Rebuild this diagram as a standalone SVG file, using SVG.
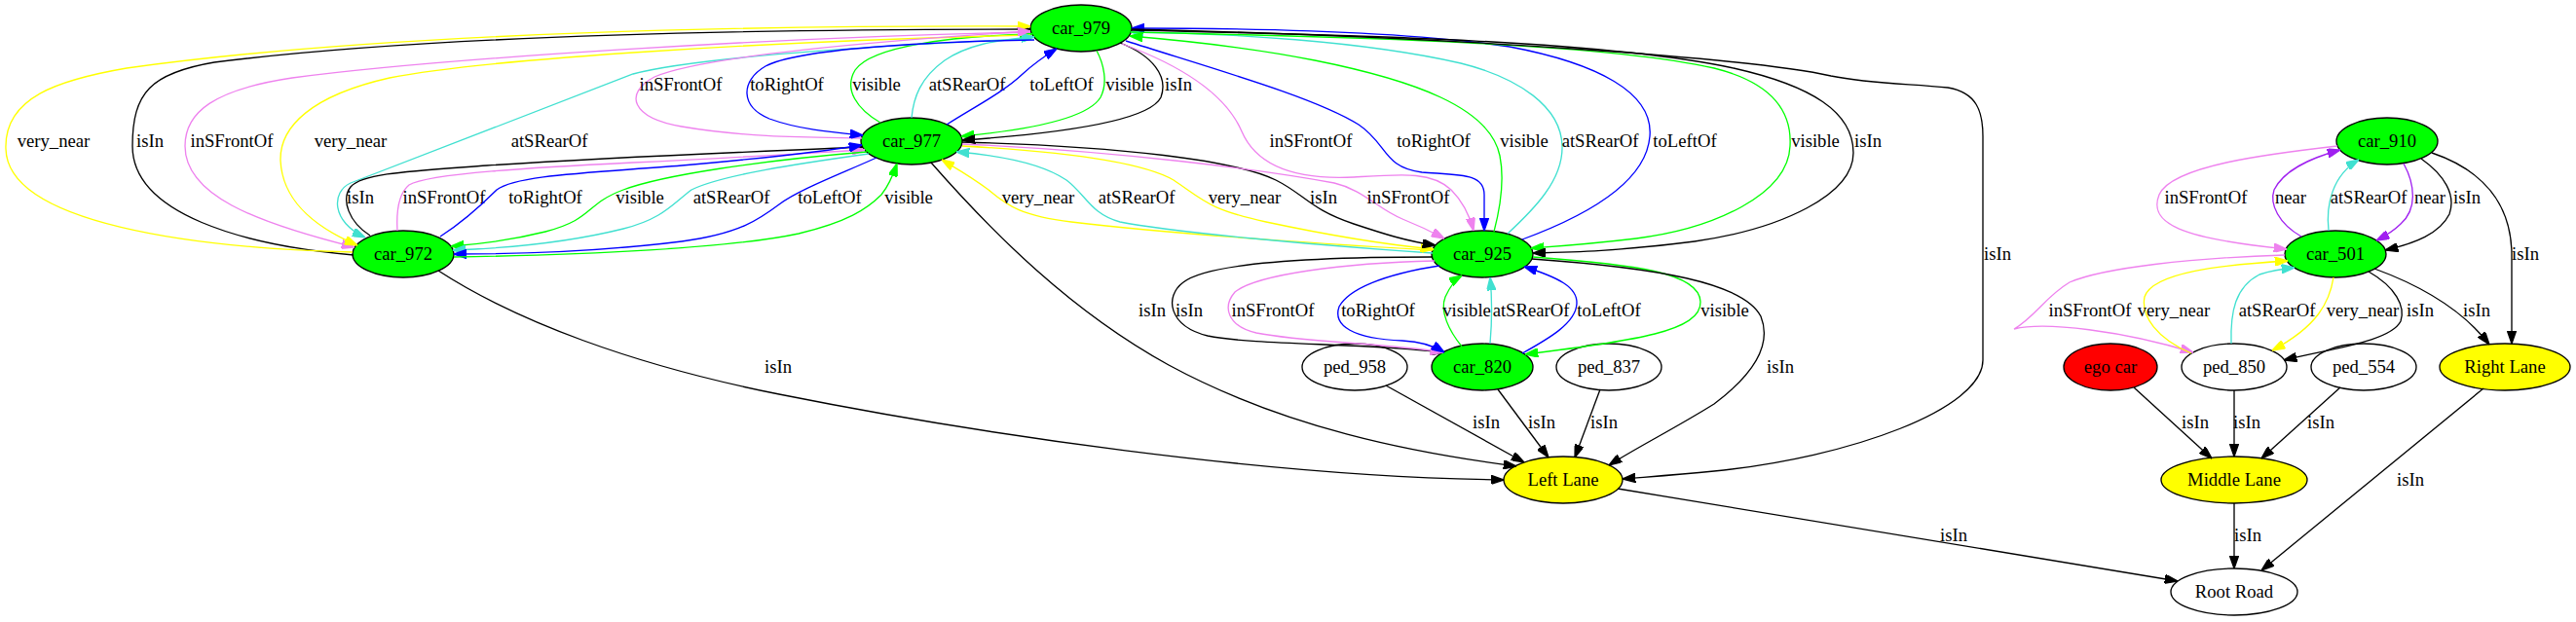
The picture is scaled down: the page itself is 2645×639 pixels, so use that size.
<svg xmlns="http://www.w3.org/2000/svg" width="2645" height="639" viewBox="0 0 2645 639">
<style>
text{font-family:"Liberation Serif","Times New Roman",serif;font-size:18.67px;fill:#000;text-anchor:middle}
.n ellipse{stroke:#000;stroke-width:1.33}
.gr{fill:#00ff00}.ye{fill:#ffff00}.rd{fill:#ff0000}.wh{fill:#fff}
.e{fill:none;stroke-width:1.33}
.k{stroke:#000;marker-end:url(#mk)}
.y{stroke:#ffff00;marker-end:url(#my)}
.v{stroke:#ee82ee;marker-end:url(#mv)}
.t{stroke:#40e0d0;marker-end:url(#mt)}
.b{stroke:#0000ff;marker-end:url(#mb)}
.g{stroke:#00ff00;marker-end:url(#mg)}
.p{stroke:#a020f0;marker-end:url(#mp)}
</style>
<defs>
<marker id="mk" viewBox="0 0 10 7" refX="10" refY="3.5" markerWidth="13.3" markerHeight="9.3" markerUnits="userSpaceOnUse" orient="auto"><path d="M0,0L10,3.5L0,7z" fill="#000" stroke="#000"/></marker>
<marker id="my" viewBox="0 0 10 7" refX="10" refY="3.5" markerWidth="13.3" markerHeight="9.3" markerUnits="userSpaceOnUse" orient="auto"><path d="M0,0L10,3.5L0,7z" fill="#ffff00" stroke="#ffff00"/></marker>
<marker id="mv" viewBox="0 0 10 7" refX="10" refY="3.5" markerWidth="13.3" markerHeight="9.3" markerUnits="userSpaceOnUse" orient="auto"><path d="M0,0L10,3.5L0,7z" fill="#ee82ee" stroke="#ee82ee"/></marker>
<marker id="mt" viewBox="0 0 10 7" refX="10" refY="3.5" markerWidth="13.3" markerHeight="9.3" markerUnits="userSpaceOnUse" orient="auto"><path d="M0,0L10,3.5L0,7z" fill="#40e0d0" stroke="#40e0d0"/></marker>
<marker id="mb" viewBox="0 0 10 7" refX="10" refY="3.5" markerWidth="13.3" markerHeight="9.3" markerUnits="userSpaceOnUse" orient="auto"><path d="M0,0L10,3.5L0,7z" fill="#0000ff" stroke="#0000ff"/></marker>
<marker id="mg" viewBox="0 0 10 7" refX="10" refY="3.5" markerWidth="13.3" markerHeight="9.3" markerUnits="userSpaceOnUse" orient="auto"><path d="M0,0L10,3.5L0,7z" fill="#00ff00" stroke="#00ff00"/></marker>
<marker id="mp" viewBox="0 0 10 7" refX="10" refY="3.5" markerWidth="13.3" markerHeight="9.3" markerUnits="userSpaceOnUse" orient="auto"><path d="M0,0L10,3.5L0,7z" fill="#a020f0" stroke="#a020f0"/></marker>
</defs>
<rect width="2645" height="639" fill="#fff"/>
<g id="nodes">
<g id="car_979" class="n"><ellipse class="gr" cx="1110" cy="29" rx="52" ry="24"/><text x="1110" y="35">car_979</text></g>
<g id="car_977" class="n"><ellipse class="gr" cx="936" cy="145" rx="52" ry="24"/><text x="936" y="151">car_977</text></g>
<g id="car_972" class="n"><ellipse class="gr" cx="414" cy="261" rx="52" ry="24"/><text x="414" y="267">car_972</text></g>
<g id="car_925" class="n"><ellipse class="gr" cx="1522" cy="261" rx="52" ry="24"/><text x="1522" y="267">car_925</text></g>
<g id="car_820" class="n"><ellipse class="gr" cx="1522" cy="377" rx="52" ry="24"/><text x="1522" y="383">car_820</text></g>
<g id="ped_958" class="n"><ellipse class="wh" cx="1391" cy="377" rx="54" ry="24"/><text x="1391" y="383">ped_958</text></g>
<g id="ped_837" class="n"><ellipse class="wh" cx="1652" cy="377" rx="54" ry="24"/><text x="1652" y="383">ped_837</text></g>
<g id="left_lane" class="n"><ellipse class="ye" cx="1605" cy="493" rx="61" ry="24"/><text x="1605" y="499">Left Lane</text></g>
<g id="car_910" class="n"><ellipse class="gr" cx="2451" cy="145" rx="52" ry="24"/><text x="2451" y="151">car_910</text></g>
<g id="car_501" class="n"><ellipse class="gr" cx="2398" cy="261" rx="52" ry="24"/><text x="2398" y="267">car_501</text></g>
<g id="ego_car" class="n"><ellipse class="rd" cx="2167" cy="377" rx="48" ry="24"/><text x="2167" y="383">ego car</text></g>
<g id="ped_850" class="n"><ellipse class="wh" cx="2294" cy="377" rx="54" ry="24"/><text x="2294" y="383">ped_850</text></g>
<g id="ped_554" class="n"><ellipse class="wh" cx="2427" cy="377" rx="54" ry="24"/><text x="2427" y="383">ped_554</text></g>
<g id="right_lane" class="n"><ellipse class="ye" cx="2572" cy="377" rx="67" ry="24"/><text x="2572" y="383">Right Lane</text></g>
<g id="middle_lane" class="n"><ellipse class="ye" cx="2294" cy="493" rx="75" ry="24"/><text x="2294" y="499">Middle Lane</text></g>
<g id="root_road" class="n"><ellipse class="wh" cx="2294" cy="608" rx="65" ry="24"/><text x="2294" y="614">Root Road</text></g>
</g>
<g id="connectors">
<path class="e k" d="M363,262 C250,252 136,220 136,150 C136,95 155,75 220,64 C450,35 800,30 1058,30"/><text x="154" y="151">isIn</text>
<path class="e g" d="M904,126 C880,112 866,92 878,72 C895,47 980,37 1060,35"/><text x="900" y="93">visible</text>
<path class="e y" d="M362,259 C200,255 8,230 6,153 C4,100 60,82 130,70 C400,32 800,26 1058,27"/><text x="55" y="151">very_near</text>
<path class="e v" d="M1058,33 C800,38 450,60 300,80 C220,92 190,115 190,150 C190,200 260,228 364,254"/><text x="238" y="151">inSFrontOf</text>
<path class="e y" d="M1058,36 C800,42 500,60 400,80 C320,98 287,130 288,165 C290,205 320,232 367,252"/><text x="360" y="151">very_near</text>
<path class="e t" d="M1059,40 C950,44 720,57 650,76 L360,188 C340,197 340,228 375,244"/><text x="564" y="151">atSRearOf</text>
<path class="e t" d="M936,121 C938,100 945,80 970,62 C992,47 1020,41 1062,38"/><text x="993" y="93">atSRearOf</text>
<path class="e v" d="M885,142 C840,141 770,142 700,130 C648,121 640,96 672,79 C720,58 900,42 1058,32"/><text x="699" y="93">inSFrontOf</text>
<path class="e b" d="M1062,41 C950,43 820,50 786,68 C760,83 760,110 790,122 C820,133 855,136 886,139"/><text x="808" y="93">toRightOf</text>
<path class="e b" d="M972,128 C1000,110 1030,95 1050,76 C1062,65 1072,58 1085,50"/><text x="1090" y="93">toLeftOf</text>
<path class="e g" d="M1126,52 C1133,65 1138,85 1130,100 C1115,125 1040,135 987,140"/><text x="1160" y="93">visible</text>
<path class="e k" d="M1150,44 C1183,57 1200,78 1192,100 C1178,128 1060,139 988,144"/><text x="1210" y="93">isIn</text>
<path class="e v" d="M1152,45 C1220,70 1260,100 1275,135 C1290,170 1330,185 1390,182 C1440,179 1470,176 1490,195 C1505,210 1510,225 1513,237"/><text x="1346" y="151">inSFrontOf</text>
<path class="e b" d="M1156,42 C1250,72 1350,100 1395,128 C1425,148 1420,172 1460,177 C1500,180 1524,178 1524,200 L1524,237"/><text x="1472" y="151">toRightOf</text>
<path class="e t" d="M1548,240 C1575,215 1605,185 1604,150 C1603,110 1560,80 1500,65 C1400,42 1260,34 1161,33"/><text x="1643" y="151">atSRearOf</text>
<path class="e g" d="M1534,238 C1540,215 1545,185 1540,160 C1530,110 1450,82 1350,62 C1290,50 1220,42 1160,37"/><text x="1565" y="151">visible</text>
<path class="e b" d="M1563,246 C1620,225 1690,190 1694,140 C1698,95 1640,65 1550,48 C1450,33 1300,29 1162,29"/><text x="1730" y="151">toLeftOf</text>
<path class="e g" d="M1161,33 C1400,38 1650,45 1760,70 C1820,85 1840,115 1838,150 C1836,200 1760,235 1680,245 C1630,251 1600,253 1572,255"/><text x="1864" y="151">visible</text>
<path class="e k" d="M1162,31 C1400,36 1650,42 1780,70 C1860,88 1903,115 1903,157 C1903,200 1830,235 1740,248 C1660,258 1620,259 1574,260"/><text x="1918" y="151">isIn</text>
<path class="e k" d="M1162,30 C1500,38 1800,60 1880,78 C1920,86 1960,86 2000,90 C2030,95 2036,115 2036,140 L2036,370 C2036,420 1900,470 1760,484 C1720,488 1690,490 1666,492"/><text x="2051" y="267">isIn</text>
<path class="e k" d="M380,242 C358,228 350,205 360,192 C372,178 420,176 500,170 C650,160 800,155 886,151"/><text x="370" y="209">isIn</text>
<path class="e v" d="M408,237 C407,220 408,200 420,190 C440,178 550,172 650,167 C760,162 830,157 888,154"/><text x="456" y="209">inSFrontOf</text>
<path class="e b" d="M452,243 C480,225 500,205 510,195 C530,180 600,178 700,170 C790,162 850,155 885,149"/><text x="560" y="209">toRightOf</text>
<path class="e g" d="M890,156 C780,165 680,180 640,195 C600,210 610,225 560,238 C520,248 490,251 463,253"/><text x="657" y="209">visible</text>
<path class="e t" d="M892,158 C820,168 740,180 710,195 C690,210 680,225 640,235 C580,250 520,255 465,257"/><text x="751" y="209">atSRearOf</text>
<path class="e b" d="M900,162 C860,180 820,195 800,210 C780,225 760,240 700,248 C620,258 530,261 466,261"/><text x="852" y="209">toLeftOf</text>
<path class="e g" d="M466,264 C600,262 750,255 820,240 C870,228 890,215 905,200 C913,190 917,180 921,168"/><text x="933" y="209">visible</text>
<path class="e y" d="M1471,257 C1350,250 1200,240 1100,228 C1050,222 1035,212 1015,195 C995,180 980,172 967,164"/><text x="1066" y="209">very_near</text>
<path class="e t" d="M1471,260 C1350,252 1200,238 1150,228 C1120,220 1115,200 1095,185 C1070,168 1030,160 982,156"/><text x="1167" y="209">atSRearOf</text>
<path class="e y" d="M988,150 C1080,155 1170,165 1205,185 C1235,205 1240,215 1300,228 C1380,245 1430,252 1472,256"/><text x="1278" y="209">very_near</text>
<path class="e k" d="M988,146 C1150,150 1270,165 1310,185 C1340,200 1345,215 1390,230 C1420,240 1445,248 1474,252"/><text x="1359" y="209">isIn</text>
<path class="e v" d="M988,148 C1150,155 1300,175 1370,188 C1400,195 1415,215 1440,225 C1460,233 1470,238 1483,245"/><text x="1446" y="209">inSFrontOf</text>
<path class="e k" d="M1471,264 C1350,264 1240,270 1215,290 C1195,305 1200,335 1240,345 C1290,355 1400,352 1482,362"/><text x="1221" y="325">isIn</text>
<path class="e v" d="M1473,268 C1380,270 1290,282 1268,300 C1255,315 1260,335 1290,342 C1340,352 1420,352 1482,362"/><text x="1307" y="325">inSFrontOf</text>
<path class="e b" d="M1478,273 C1420,282 1385,297 1375,315 C1368,335 1390,348 1440,350 C1460,351 1472,355 1483,362"/><text x="1415" y="325">toRightOf</text>
<path class="e g" d="M1501,356 C1488,340 1478,320 1484,305 C1490,292 1496,286 1501,283"/><text x="1506" y="325">visible</text>
<path class="e t" d="M1530,353 C1532,330 1532,305 1530,285"/><text x="1572" y="325">atSRearOf</text>
<path class="e b" d="M1563,363 C1590,348 1618,332 1619,312 C1620,295 1600,285 1565,274"/><text x="1652" y="325">toLeftOf</text>
<path class="e g" d="M1574,264 C1680,272 1745,280 1746,310 C1747,340 1680,350 1566,364"/><text x="1771" y="325">visible</text>
<path class="e k" d="M1573,266 C1700,275 1790,290 1808,325 C1820,355 1800,385 1760,415 C1720,440 1680,460 1652,478"/><text x="1828" y="383">isIn</text>
<path class="e k" d="M450,278 C530,330 650,375 800,405 C1000,445 1300,490 1544,493"/><text x="799" y="383">isIn</text>
<path class="e k" d="M956,167 C1020,240 1100,320 1200,375 C1320,440 1450,465 1557,479"/><text x="1183" y="325">isIn</text>
<path class="e k" d="M1423,396 L1565,475"/><text x="1526" y="440">isIn</text>
<path class="e k" d="M1538,400 L1590,470"/><text x="1583" y="440">isIn</text>
<path class="e k" d="M1643,400 L1617,470"/><text x="1647" y="440">isIn</text>
<path class="e k" d="M1661,502 L2236,597"/><text x="2006" y="556">isIn</text>
<path class="e v" d="M2400,150 C2330,158 2230,170 2217,200 C2205,230 2240,245 2348,256"/><text x="2265" y="209">inSFrontOf</text>
<path class="e p" d="M2363,243 C2340,230 2330,210 2335,195 C2345,175 2370,163 2403,154"/><text x="2352" y="209">near</text>
<path class="e t" d="M2391,237 C2388,210 2395,180 2422,164"/><text x="2432" y="209">atSRearOf</text>
<path class="e p" d="M2468,168 C2480,190 2482,215 2465,230 C2458,237 2450,242 2440,247"/><text x="2495" y="209">near</text>
<path class="e k" d="M2486,163 C2510,180 2522,200 2515,220 C2505,240 2480,250 2449,257"/><text x="2533" y="209">isIn</text>
<path class="e k" d="M2497,157 C2550,175 2578,210 2579,260 L2579,353"/><text x="2593" y="267">isIn</text>
<path class="e v" d="M2346,262 C2250,265 2160,275 2125,290 C2100,305 2090,325 2068,338 C2100,330 2180,340 2252,362"/><text x="2146" y="325">inSFrontOf</text>
<path class="e y" d="M2250,363 C2215,348 2198,325 2202,305 C2210,280 2280,272 2349,268"/><text x="2232" y="325">very_near</text>
<path class="e t" d="M2291,353 C2290,320 2295,295 2320,282 C2335,277 2345,276 2356,275"/><text x="2338" y="325">atSRearOf</text>
<path class="e y" d="M2396,285 C2392,310 2380,335 2333,360"/><text x="2426" y="325">very_near</text>
<path class="e k" d="M2432,279 C2460,295 2470,315 2465,330 C2455,350 2400,357 2345,370"/><text x="2485" y="325">isIn</text>
<path class="e k" d="M2438,276 C2490,295 2530,320 2556,354"/><text x="2543" y="325">isIn</text>
<path class="e k" d="M2191,398 L2271,471"/><text x="2254" y="440">isIn</text>
<path class="e k" d="M2294,401 L2294,469"/><text x="2307" y="440">isIn</text>
<path class="e k" d="M2403,398 L2322,471"/><text x="2383" y="440">isIn</text>
<path class="e k" d="M2550,399 L2322,586"/><text x="2475" y="499">isIn</text>
<path class="e k" d="M2294,517 L2294,584"/><text x="2308" y="556">isIn</text>
</g>
</svg>
